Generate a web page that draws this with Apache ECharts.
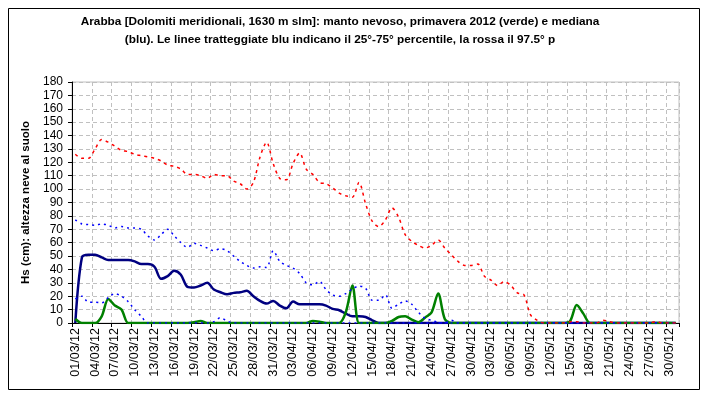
<!DOCTYPE html>
<html>
<head>
<meta charset="utf-8">
<script src="https://cdn.jsdelivr.net/npm/echarts@6/dist/echarts.min.js"></script>
<style>
html,body{margin:0;padding:0;background:#fff;}
#c{width:706px;height:396px;}
</style>
</head>
<body>
<div id="c"></div>
<script>
var categories = [
"01/03/12","02/03/12","03/03/12","04/03/12","05/03/12","06/03/12","07/03/12","08/03/12","09/03/12","10/03/12",
"11/03/12","12/03/12","13/03/12","14/03/12","15/03/12","16/03/12","17/03/12","18/03/12","19/03/12","20/03/12",
"21/03/12","22/03/12","23/03/12","24/03/12","25/03/12","26/03/12","27/03/12","28/03/12","29/03/12","30/03/12","31/03/12",
"01/04/12","02/04/12","03/04/12","04/04/12","05/04/12","06/04/12","07/04/12","08/04/12","09/04/12","10/04/12",
"11/04/12","12/04/12","13/04/12","14/04/12","15/04/12","16/04/12","17/04/12","18/04/12","19/04/12","20/04/12",
"21/04/12","22/04/12","23/04/12","24/04/12","25/04/12","26/04/12","27/04/12","28/04/12","29/04/12","30/04/12",
"01/05/12","02/05/12","03/05/12","04/05/12","05/05/12","06/05/12","07/05/12","08/05/12","09/05/12","10/05/12",
"11/05/12","12/05/12","13/05/12","14/05/12","15/05/12","16/05/12","17/05/12","18/05/12","19/05/12","20/05/12",
"21/05/12","22/05/12","23/05/12","24/05/12","25/05/12","26/05/12","27/05/12","28/05/12","29/05/12","30/05/12","31/05/12"
];

var yTicks = [0,10,20,30,40,50,60,70,80,90,100,110,120,130,140,150,160,170,180];

// 2012 snow depth (green)
var season2012 = [
3,0,0,0,5,18,13,10,0,0,
0,0,0,0,0,0,0,0,0.5,1.5,
0,0,0,0,0,0,0,0,0,0,0,
0,0,0,0,0,1.5,1,0,0,0,
8,28,0,0,0,0,0,1.5,4.5,5,
2.5,0.5,4,8,22,3,0,0,0,0,
0,0,0,0,0,0,0,0,0,0,
0,0,0,0,1.5,13.5,7,0,0,0,
0,0,0,0,0,0,0,0,0,0,0
];

// median (navy)
var median = [
0,49,51,51,49,47,47,47,47,46,
44,44,42,33,35,39,36,27,26.5,28,
30,25,23,21.5,22.5,23,24,20,16.5,14.5,16.5,
13,11,16,14,14,14,14,13,10.5,9.5,
7,5,5,4.5,2,0,0,0,0,0,
0,0,0,0,0,0,0,0,0,0,
0,0,0,0,0,0,0,0,0,0,
0,0,0,0,0,0,0,0,0,0,
0,0,0,0,0,0,0,0,0,0,0
];

// 25th percentile (blue dotted)
var p25 = [
18,20,15.5,15.5,15,19,22,20,16,10,
5,0,0,0,0,0,0,0,0,0,
0,1,4,1.5,0,0,0,0,0,0,0,
0,0,0,0,0,0,0,0,0,0,
0,0,0,0,0,0,0,0,0,0,
0,0,0,0,0,0,0,0,0,0,
0,0,0,0,0,0,0,0,0,0,
0,0,0,0,0,0,0,0,0,0,
0,0,0,0,0,0,0,0,0,0,0
];

// 75th percentile (blue dotted)
var p75 = [
77,74,73.5,73,74,73,71,72,71,71,
70,65,62,66,70,65,60,56.5,59.5,58,
56,54,55.5,54,50,46,43,41,42,41.5,54,
46,43,41,37,30,28.5,31,25,21,20,
22,25.5,27.5,26,17,17,21,11,14,16.5,
14,8,3.5,2,0.5,0,2,0,0,0,
0,0,0,0,0,0,0,0,0,0,
0,0,0,0,0,0,0,0,0,0,
0,0,0,0,0,0,0,0,0,0,0
];

// 97.5th percentile (red dashed)
var p975 = [
126,123,123,130,137,135,132,129,128,126,
125,124,123,121,118,117,115,111,111,110,
108,111,110,110,106,104,100,105,124,135,119,
108,107,119,127,115,111,105,104,101,97,
95,94,105,89,76,72,77,86,79,66,
61,58,56,58,62,56,51,46,43,43,
44,35,32,28,31,28,22.5,21,6,2,
0,0,0,0,1,1,0,0,0,2,
1,0,0,0,0,0,0,1,0,0,0
];

var chart = echarts.init(document.getElementById('c'), null, {renderer:'canvas'});
var FONT = 'Liberation Sans, Arial, sans-serif';
var gridDash = {color:'#c0c0c0', width:1, type:[4,3]};

function lineSeries(name, data, color, width, dash, z){
  return {
    name:name, type:'line', data:data, symbol:'none', smooth:0.3,
    lineStyle:{color:color, width:width, type:dash},
    itemStyle:{color:color}, z:z, silent:true, animation:false
  };
}

chart.setOption({
  animation:false,
  backgroundColor:'#ffffff',
  textStyle:{fontFamily:FONT},
  grid:{left:72, top:82, right:27, bottom:73, show:true, borderColor:'#c0c0c0', borderWidth:1, containLabel:false},
  xAxis:{
    type:'category', data:categories, boundaryGap:true,
    axisLine:{show:true, lineStyle:{color:'#000', width:1}},
    axisTick:{show:true, interval:2, length:4, lineStyle:{color:'#000'}},
    axisLabel:{interval:2, rotate:90, color:'#000', fontSize:12.5, fontFamily:FONT, margin:5},
    splitLine:{show:true, interval:2, lineStyle:gridDash}
  },
  yAxis:{
    type:'value', min:yTicks[0], max:yTicks[yTicks.length-1], interval:10,
    name:'Hs (cm): altezza neve al suolo', nameLocation:'middle', nameRotate:90, nameGap:40,
    nameTextStyle:{fontWeight:'bold', fontSize:11.5, color:'#000', fontFamily:FONT},
    axisLine:{show:true, lineStyle:{color:'#000', width:1}},
    axisTick:{show:true, length:4, lineStyle:{color:'#000'}},
    axisLabel:{color:'#000', fontSize:12, fontFamily:FONT, margin:9},
    splitLine:{show:true, lineStyle:gridDash}
  },
  graphic:[
    {type:'rect', shape:{x:8.5, y:8.5, width:691, height:381}, style:{fill:null, stroke:'#000', lineWidth:1}, z:-10},
    {type:'text', x:340, y:13, style:{text:'Arabba [Dolomiti meridionali, 1630 m slm]: manto nevoso, primavera 2012 (verde) e mediana\n(blu). Le linee tratteggiate blu indicano il 25°-75° percentile, la rossa il 97.5° p',
      textAlign:'center', font:'bold 11.8px ' + FONT, fill:'#000', lineHeight:18}}
  ],
  series:[
    lineSeries('mediana', median, '#000080', 2.5, 'solid', 3),
    lineSeries('2012', season2012, '#008000', 2.5, 'solid', 4),
    lineSeries('25°', p25, '#0000ff', 1.5, [2,4], 5),
    lineSeries('75°', p75, '#0000ff', 1.5, [2,4], 5),
    lineSeries('97.5°', p975, '#ff0000', 1.5, [3,4], 6)
  ]
});
</script>
</body>
</html>
